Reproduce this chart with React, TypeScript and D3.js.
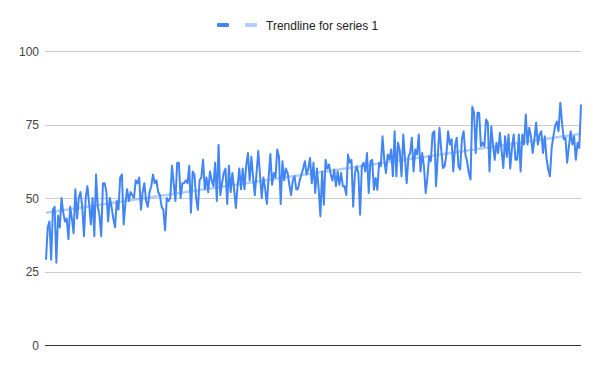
import { useRef, useEffect } from "react";
import * as d3 from "d3";

// series 1 values, read left to right off the reference
const seriesA = [29, 40, 42, 29, 46, 47, 28, 44, 40, 50, 45, 42, 43, 36, 47, 43, 38, 53, 43, 50, 52, 47, 37, 50, 54, 48, 41, 50, 37, 58, 47, 44, 37, 55, 55, 52, 42, 50, 47, 43, 40, 49, 46, 57, 58];
const seriesB = [41, 48, 53, 49, 52, 51, 50, 56, 55, 57, 46, 52, 55, 49, 47, 52, 54, 58, 55, 56, 52, 51, 47, 46, 39, 50, 49, 50, 61, 55, 49, 62, 62, 50, 55, 55, 56, 55, 61, 45, 59, 58, 50, 46, 56, 57, 63, 53, 57, 52, 59, 56, 54, 62, 49, 68];
const seriesC = [51, 55, 58.5, 60, 48, 61, 52, 58.5, 53, 46.6, 54, 60, 53, 60, 53, 61, 65.3, 56, 64, 57, 51, 58.5, 66, 58, 50, 57, 53, 48, 57, 65, 54.5, 58.5, 57, 66.5, 64, 48, 62.5, 56, 60, 58.5, 54.5, 51, 56, 57.4, 53, 53, 56, 58, 60, 62.5, 58, 60];
const seriesD = [63.6, 55, 62, 51.7, 60, 53, 43.8, 59, 47.7, 63, 60, 61.4, 58, 56, 59.7, 54, 59, 54.5, 58.5, 54, 54, 51, 64.8, 62, 63, 47, 58.5, 60.8, 58.5, 44.3, 60.8, 62, 59, 65.3, 51.7, 62.5, 63, 52.8, 56.8, 52.8, 62, 60.8, 71, 63, 58.5, 64.8, 63, 66.5, 57.4, 72.7, 57.4, 68.8, 66, 57.4, 71.6, 63.6, 55, 64, 65.3];
const seriesE = [70.5, 59, 66.5, 64.8, 71.6, 59, 65.3, 60.8, 51.7, 56.8, 64.2, 62.5, 72, 72.7, 54, 64.2, 73.9, 66.5, 60.2, 60.8, 64.8, 72.7, 68.2, 70, 59, 67.6, 70.5, 60.8, 59.7, 70, 72.7, 64.8, 62.5, 58.5, 56.3, 81, 79, 65.3, 79, 79, 67.6, 68.8, 67.6, 76.7, 75.6, 59, 74.4, 68.2, 63, 68.8, 65.3, 72.2, 66, 60.2, 71];
const seriesF = [64, 71.6, 60, 67, 71.6, 63, 63, 71.6, 59, 71.6, 68.2, 78.4, 68.2, 73.9, 71, 65.3, 70, 75.6, 68.2, 71.6, 72.7, 65.3, 71, 63.6, 59.7, 57.4, 67, 71, 74.4, 76, 72.7, 82.4, 75.6, 70, 70.5, 62, 67.6, 72.7, 68.2, 71, 63, 68.8, 67, 81.8];

const yTicks = [0, 25, 50, 75, 100];
const trendLabel = "Trendline for series 1";

const values = [...seriesA, ...seriesB, ...seriesC, ...seriesD, ...seriesE, ...seriesF];

const BLUE = "#4285f4";
const FONT = "Arial, 'Liberation Sans', sans-serif";

export default function App() {
  const svgRef = useRef<SVGSVGElement>(null);

  useEffect(() => {
    if (!svgRef.current) return;
    const svg = d3.select(svgRef.current);
    svg.selectAll("*").remove();

    const width = 600;
    const height = 371;
    const n = values.length;

    const x = d3.scaleLinear().domain([0, n - 1]).range([46, 581]);
    const y = d3.scaleLinear().domain([0, 100]).range([345, 51]);

    svg.append("rect").attr("width", width).attr("height", height).attr("fill", "#fff");

    // gridlines + labels
    yTicks.forEach(t => {
      svg.append("line")
        .attr("x1", 45).attr("x2", 581)
        .attr("y1", Math.round(y(t)) + 0.5).attr("y2", Math.round(y(t)) + 0.5)
        .attr("stroke", t === 0 ? "#333" : "#ccc")
        .attr("stroke-width", 1);
      svg.append("text")
        .attr("x", 39).attr("y", y(t) + 4.5)
        .attr("text-anchor", "end")
        .attr("font-family", FONT).attr("font-size", 12)
        .attr("fill", "#444")
        .text(t);
    });

    // least squares trendline
    const idx = values.map((_, i) => i);
    const mx = d3.mean(idx) as number;
    const my = d3.mean(values) as number;
    const slope = d3.sum(idx, i => (i - mx) * (values[i] - my)) / d3.sum(idx, i => (i - mx) ** 2);
    const icpt = my - slope * mx;

    svg.append("line")
      .attr("x1", x(0)).attr("y1", y(icpt))
      .attr("x2", x(n - 1)).attr("y2", y(icpt + slope * (n - 1)))
      .attr("stroke", BLUE).attr("stroke-opacity", 0.4)
      .attr("stroke-width", 2.5);

    const line = d3.line<number>()
      .x((_, i) => x(i))
      .y(d => y(d));

    svg.append("path")
      .datum(values)
      .attr("fill", "none")
      .attr("stroke", BLUE)
      .attr("stroke-width", 2)
      .attr("stroke-linejoin", "round")
      .attr("d", line);

    // legend
    const lg = svg.append("g");
    lg.append("rect").attr("x", 217).attr("y", 23).attr("width", 12).attr("height", 4).attr("rx", 1).attr("fill", BLUE);
    lg.append("rect").attr("x", 245).attr("y", 23).attr("width", 12).attr("height", 4).attr("rx", 1).attr("fill", BLUE).attr("fill-opacity", 0.4);
    lg.append("text")
      .attr("x", 266).attr("y", 29.5)
      .attr("font-family", FONT).attr("font-size", 12)
      .attr("fill", "#222")
      .text(trendLabel);
  }, []);

  return (
    <svg
      ref={svgRef}
      width={600}
      height={371}
      style={{ position: "absolute", left: 0, top: 0, display: "block" }}
    />
  );
}
